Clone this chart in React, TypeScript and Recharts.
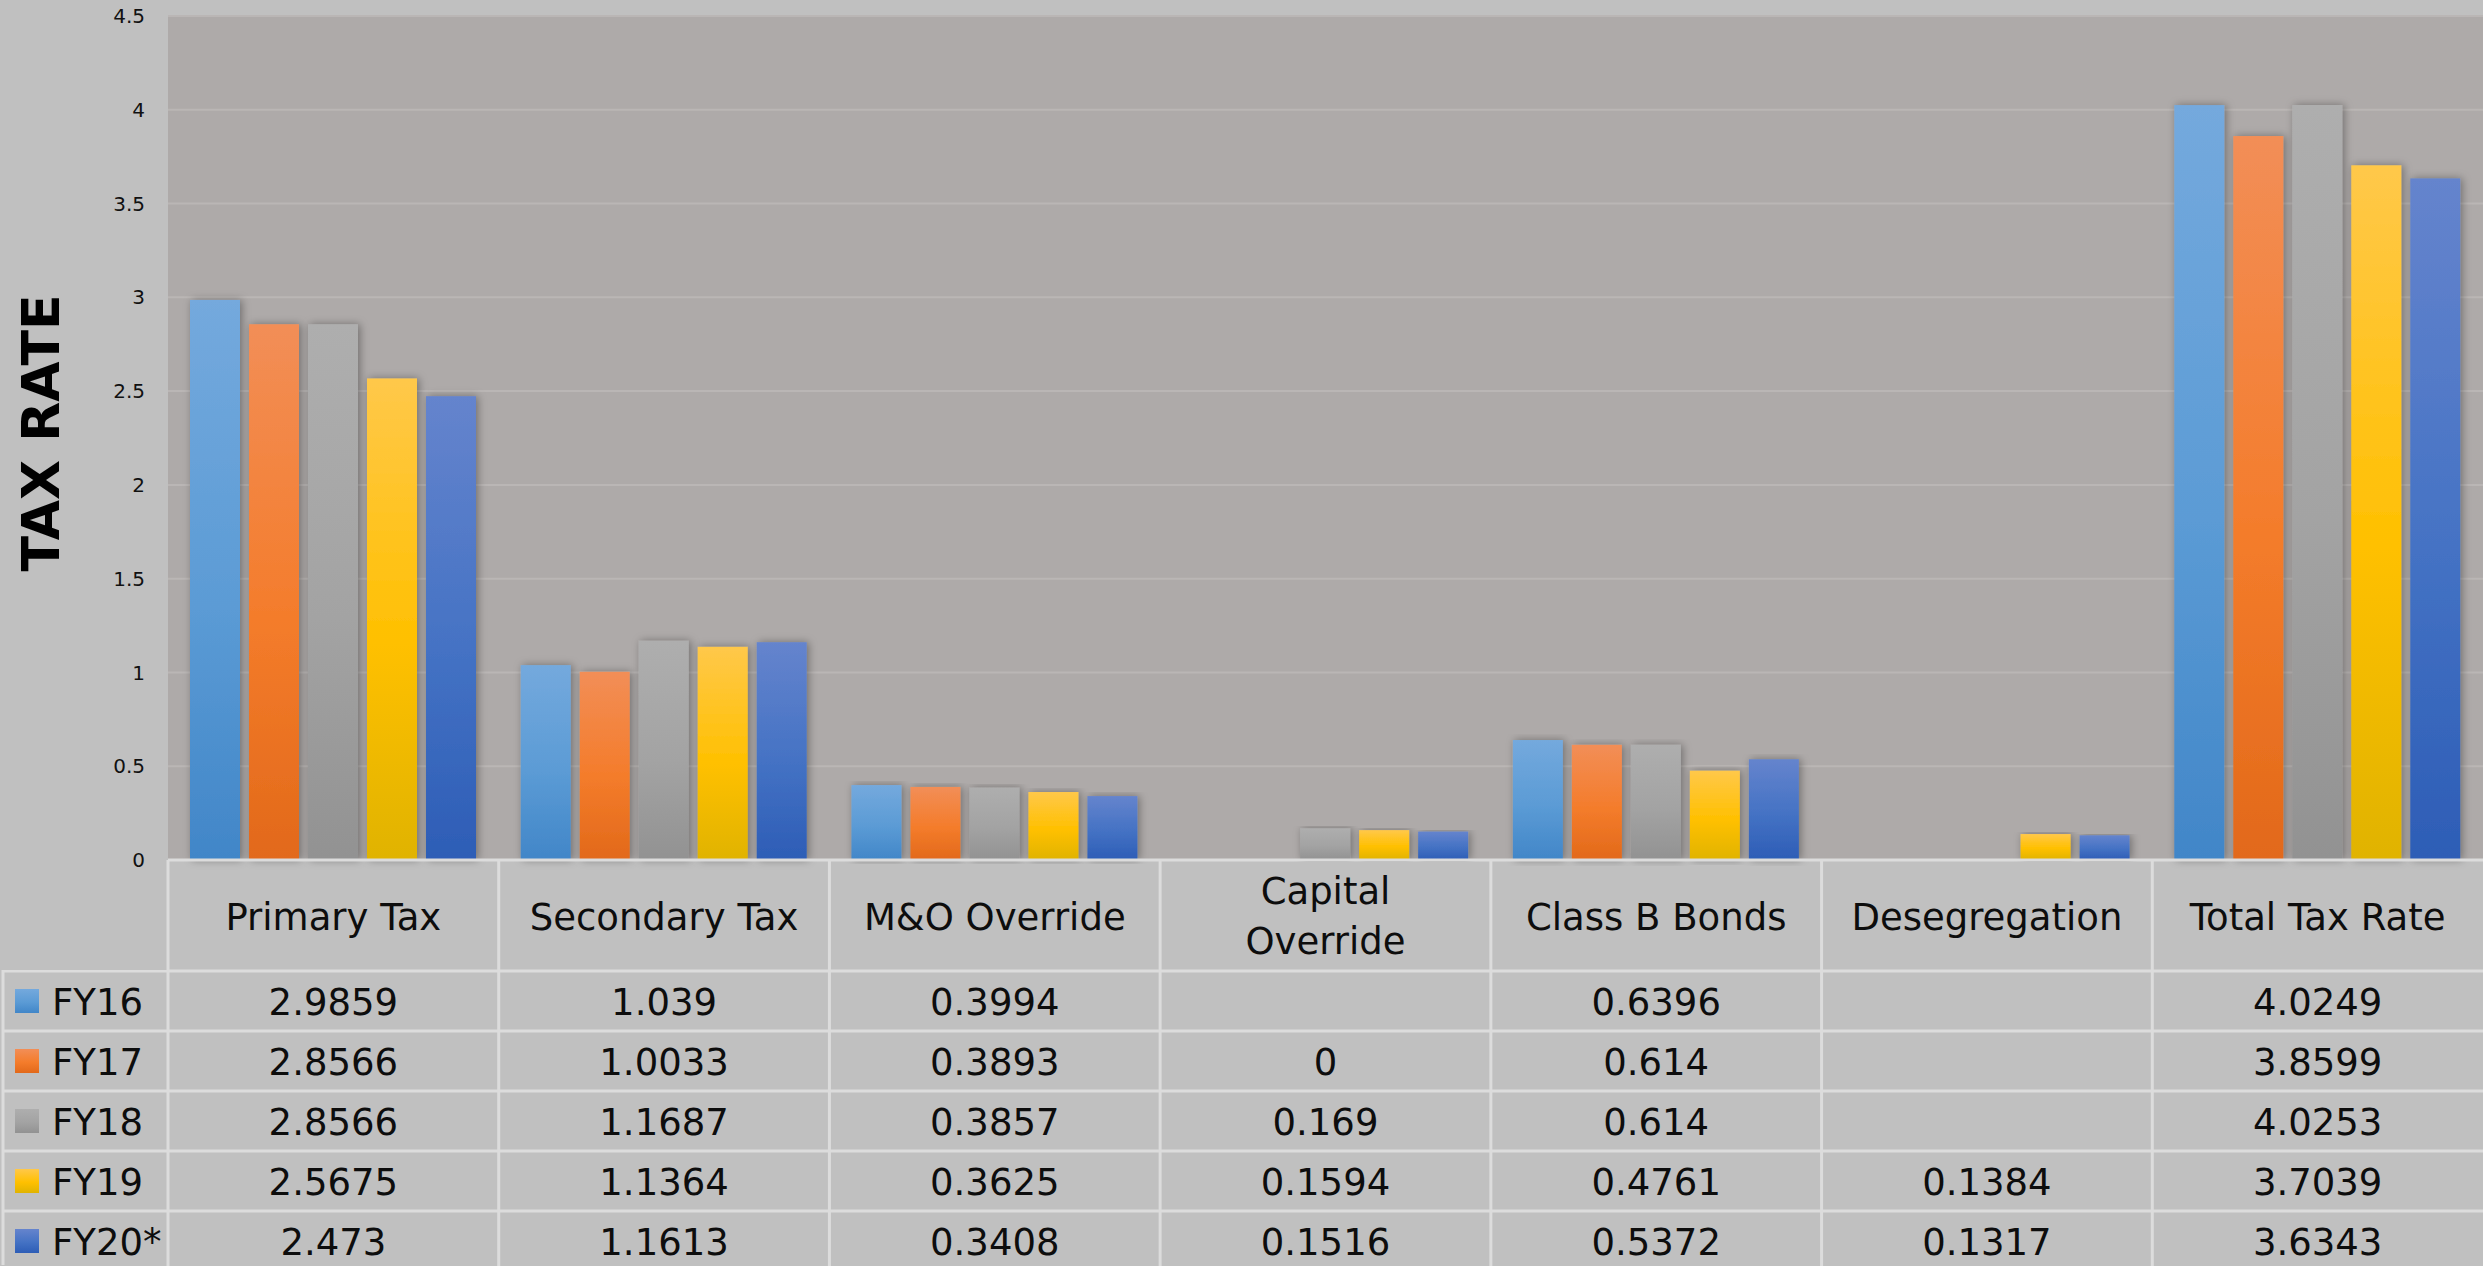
import React from 'react';
import { BarChart, Bar, XAxis, YAxis, CartesianGrid, Legend } from 'recharts';

const categories = ['Primary Tax', 'Secondary Tax', 'M&O Override', 'Capital Override', 'Class B Bonds', 'Desegregation', 'Total Tax Rate'];
const seriesNames = ['FY16', 'FY17', 'FY18', 'FY19', 'FY20*'];
const fy16 = [2.9859, 1.039, 0.3994, null, 0.6396, null, 4.0249];
const fy17 = [2.8566, 1.0033, 0.3893, 0, 0.614, null, 3.8599];
const fy18 = [2.8566, 1.1687, 0.3857, 0.169, 0.614, null, 4.0253];
const fy19 = [2.5675, 1.1364, 0.3625, 0.1594, 0.4761, 0.1384, 3.7039];
const fy20 = [2.473, 1.1613, 0.3408, 0.1516, 0.5372, 0.1317, 3.6343];
const yTicks = [0, 0.5, 1, 1.5, 2, 2.5, 3, 3.5, 4, 4.5];

const series = [fy16, fy17, fy18, fy19, fy20];
const gradientStops = [
  ['#74A9DD', '#5B9BD5', '#4186C8'],
  ['#F28E57', '#F47C2B', '#E2691A'],
  ['#AEAEAE', '#A3A3A3', '#929292'],
  ['#FFC84A', '#FFC000', '#E0B300'],
  ['#6584CD', '#4472C4', '#2D5DB6'],
];

const data = categories.map((c, i) => {
  const row: any = { name: c };
  series.forEach((s, k) => { row['s' + k] = s[i]; });
  return row;
});

const W = 2483;
const H = 1266;
const Y_W = 168;
const TOP = 16;
const PLOT_BOTTOM = 860;
const X_H = H - PLOT_BOTTOM;
const BAND = (W - Y_W) / categories.length;
const HEADER_H = 111;
const ROW_H = 60;
const LINE = '#DCDCDC';
const FONT = '"DejaVu Sans", sans-serif';
const TXT = '#0D0D0D';

const fmt = (v: number | null) => (v === null || v === undefined ? '' : String(v));

function TableTick(props: any) {
  const { x, y, payload, index } = props;
  const left = x - BAND / 2;
  const right = x + BAND / 2;
  const label: string = payload.value;
  const lines = label.length > 14 ? label.split(' ') : [label];
  const ci = categories.indexOf(label);
  return (
    <g>
      <line x1={left} y1={y} x2={left} y2={H} stroke={LINE} strokeWidth={3} />
      {lines.length === 1 ? (
        <text x={x} y={y + 57} textAnchor="middle" dominantBaseline="central" fontSize={37} fontFamily={FONT} fill={TXT}>{label}</text>
      ) : (
        lines.map((l, j) => (
          <text key={j} x={x} y={y + 31 + j * 50} textAnchor="middle" dominantBaseline="central" fontSize={37} fontFamily={FONT} fill={TXT}>{l}</text>
        ))
      )}
      {series.map((s, r) => {
        const top = y + HEADER_H + r * ROW_H;
        return (
          <g key={r}>
            <line x1={left} y1={top} x2={right} y2={top} stroke={LINE} strokeWidth={3} />
            <text x={x} y={top + 31} textAnchor="middle" dominantBaseline="central" fontSize={37} fontFamily={FONT} fill={TXT}>{fmt(s[ci])}</text>
          </g>
        );
      })}
    </g>
  );
}

function LegendTable() {
  return (
    <svg width={Y_W} height={H - PLOT_BOTTOM - HEADER_H} style={{ display: 'block' }}>
      <defs>
        {gradientStops.map((st, k) => (
          <linearGradient key={k} id={'lg' + k} x1="0" y1="0" x2="0" y2="1">
            <stop offset="0%" stopColor={st[0]} />
            <stop offset="55%" stopColor={st[1]} />
            <stop offset="100%" stopColor={st[2]} />
          </linearGradient>
        ))}
      </defs>
      <line x1={3} y1={0} x2={3} y2={H} stroke={LINE} strokeWidth={3} />
      {seriesNames.map((n, r) => (
        <g key={n}>
          <line x1={3} y1={r * ROW_H + 1} x2={Y_W} y2={r * ROW_H + 1} stroke={LINE} strokeWidth={3} />
          <rect x={15} y={r * ROW_H + 19} width={24} height={24} fill={`url(#lg${r})`} />
          <text x={52} y={r * ROW_H + 32} dominantBaseline="central" fontSize={37} fontFamily={FONT} fill={TXT}>{n}</text>
        </g>
      ))}
    </svg>
  );
}

function ShadowBar(props: any) {
  const { x, y, width, height, fill } = props;
  if (!height || height <= 0) return null;
  return <rect x={x} y={y} width={width} height={height} fill={fill} filter="url(#barShadow)" />;
}

function AxisTitle(props: any) {
  const vb = props.viewBox || { x: 0, y: TOP, width: Y_W, height: PLOT_BOTTOM - TOP };
  const cx = 41;
  const cy = 433;
  return (
    <text x={cx} y={cy} transform={`rotate(-90, ${cx}, ${cy})`} textAnchor="middle" dominantBaseline="central" fontSize={52} fontWeight="bold" fontFamily={FONT} fill="#000">TAX RATE</text>
  );
}

export default function App() {
  return (
    <div style={{ position: 'absolute', left: 0, top: 0, width: W, height: H, background: '#C0C0C0', overflow: 'hidden' }}>
      <BarChart width={W} height={H} data={data} margin={{ top: TOP, right: 0, bottom: 0, left: 0 }} barCategoryGap={22} barGap={9}>
        <defs>
          {gradientStops.map((st, k) => (
            <linearGradient key={k} id={'g' + k} x1="0" y1="0" x2="0" y2="1">
              <stop offset="0%" stopColor={st[0]} />
              <stop offset="55%" stopColor={st[1]} />
              <stop offset="100%" stopColor={st[2]} />
            </linearGradient>
          ))}
          <filter id="barShadow" x="-30%" y="-5%" width="170%" height="110%">
            <feDropShadow dx="2" dy="0" stdDeviation="4" floodColor="#000" floodOpacity="0.35" />
          </filter>
        </defs>
        <CartesianGrid vertical={false} stroke="#BAB6B5" strokeWidth={2} fill="#AEAAA9" />
        <XAxis dataKey="name" height={X_H} interval={0} tickLine={false} tickSize={0} tickMargin={0} axisLine={{ stroke: LINE, strokeWidth: 3 }} tick={<TableTick />} />
        <YAxis width={Y_W} domain={[0, 4.5]} ticks={yTicks} axisLine={false} tickLine={false} tickSize={0} tickMargin={23} tick={{ fontSize: 20, fill: '#111', fontFamily: FONT }} label={<AxisTitle />} />
        <Legend layout="vertical" align="center" verticalAlign="middle" content={<LegendTable />} wrapperStyle={{ left: 0, top: PLOT_BOTTOM + HEADER_H - 1, width: Y_W, margin: 0, padding: 0 }} />
        {seriesNames.map((n, k) => (
          <Bar key={n} dataKey={'s' + k} name={n} fill={`url(#g${k})`} shape={<ShadowBar />} isAnimationActive={false} />
        ))}
      </BarChart>
    </div>
  );
}
